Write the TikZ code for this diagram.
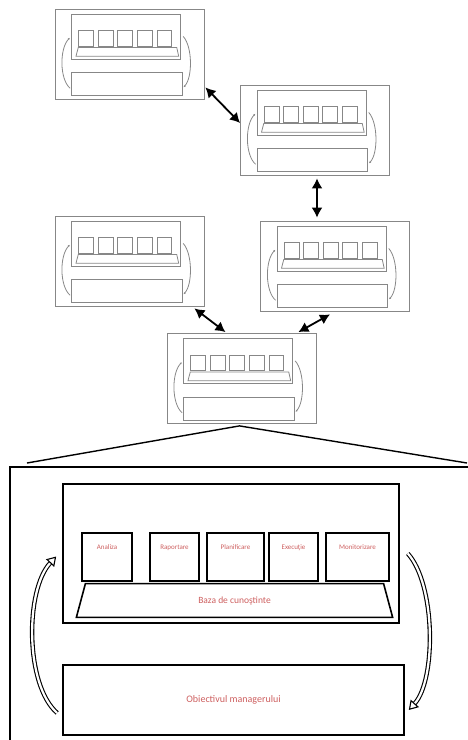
\documentclass[tikz,border=0pt]{standalone}
\usepackage{fontspec}
\setmainfont{Carlito}
\usetikzlibrary{shapes.geometric, arrows.meta, positioning, calc}
\usepackage{xcolor}
\definecolor{minigray}{RGB}{135,135,135}
\definecolor{labelred}{RGB}{205,95,95}
\tikzstyle{minisys} = [rectangle, draw=minigray, line width=0.8pt, minimum width=149pt, minimum height=90pt, inner sep=0pt]
\tikzstyle{link} = [line width=1.8pt, {Latex[length=10pt,width=11pt]}-{Latex[length=10pt,width=11pt]}]
\tikzstyle{bigbox} = [rectangle, draw, line width=1.6pt, inner sep=0pt]
\tikzstyle{module} = [bigbox, minimum height=48pt]
\tikzstyle{modtext} = [anchor=north, yshift=-9pt, font=\fontsize{7}{8}\selectfont, text=labelred]
\tikzstyle{loopback} = [line width=1.1pt, double=white, double distance=2.2pt, -{Triangle[open,length=9pt,width=11pt]}]

% one small system, drawn inside its frame node
\newcommand{\minibody}[1]{%
  \begin{scope}[shift={(#1.north west)}, scale=0.324, color=minigray, line width=0.8pt]
    \draw (53,17) rectangle (389,156);
    \foreach \xa in {74, 134.5, 195, 255.5, 316}
      \draw (\xa,68) rectangle ++(46,48);
    \draw (73,120) -- (377,120) -- (383,147) -- (66,147) -- cycle;
    \draw (53,198) rectangle (394,268);
    \draw[-{Latex[length=2pt,width=2pt]}] (48,246) .. controls (15,218) and (15,123) .. (47,90);
    \draw[-{Latex[length=2pt,width=2pt]}] (397,86) .. controls (426,118) and (426,213) .. (398,243);
  \end{scope}}

\begin{document}
\begin{tikzpicture}[x=1pt, y=-1pt]
\useasboundingbox (0,0) rectangle (468,740);

% Network of systems
\node[minisys] (sys1) at (129.5,54) {};
\node[minisys] (sys2) at (315,130) {};
\node[minisys] (sys3) at (129.5,261) {};
\node[minisys] (sys4) at (335,266) {};
\node[minisys] (sys5) at (241.5,378.5) {};
\foreach \s in {sys1, sys2, sys3, sys4, sys5}
  \minibody{\s};

% Links
\draw[link] ([xshift=1pt,yshift=12pt]sys1.south east) -- ([yshift=7pt]sys2.west);
\draw[link, shorten <=3pt, shorten >=3pt] ([xshift=2pt]sys2.south) -- ([xshift=2pt]sys2.south |- sys4.north);
\draw[link] ([xshift=-10pt,yshift=-2pt]sys3.south east) -- ([xshift=-16pt,yshift=1pt]sys5.north);
\draw[link] ([xshift=-5pt,yshift=-3pt]sys4.south) -- ([xshift=-18pt,yshift=1pt]sys5.north east);

% Zoom onto the bottom system
\coordinate (zoomL) at (27,463);
\coordinate (zoomR) at (467,463);
\draw[line width=1.4pt] (zoomL) -- ([xshift=-2pt,yshift=-2pt]sys5.south) -- (zoomR);
\draw[line width=1.4pt] (10,467) rectangle (490,770);

% Detail
\node[bigbox, minimum width=336pt, minimum height=139pt] (core) at (231,553.5) {};
\node[module, minimum width=50pt, label={[modtext]north:Analiza}] (analiza) at (107,557) {};
\node[module, minimum width=49pt, label={[modtext]north:Raportare}] (raport) at (174.5,557) {};
\node[module, minimum width=57pt, label={[modtext]north:Planificare}] (plan) at (235.5,557) {};
\node[module, minimum width=49pt, label={[modtext]north:Execuţie}] (exec) at (293.5,557) {};
\node[module, minimum width=63pt, label={[modtext]north:Monitorizare}] (monit) at (357.5,557) {};
\node[trapezium, draw, line width=1.6pt, trapezium left angle=75, trapezium right angle=75, minimum width=317pt, minimum height=27pt, inner sep=0pt, font=\fontsize{9.5}{11}\selectfont, text=labelred] (baza) at (234.5,600.5) {Baza de cunoştinte};
\node[bigbox, minimum width=341pt, minimum height=70pt, font=\fontsize{10}{12}\selectfont, text=labelred] (obj) at (233.5,700) {Obiectivul managerului};

% Loops between goal and knowledge
\draw[loopback] ([xshift=-5pt,yshift=-13pt]obj.west) .. controls (25,685) and (25,590) .. ([xshift=-6pt,yshift=-3pt]core.west);
\draw[loopback] ([xshift=8pt]core.east) .. controls (436,585) and (436,680) .. ([xshift=4pt,yshift=-10pt]obj.east);
\end{tikzpicture}
\end{document}
